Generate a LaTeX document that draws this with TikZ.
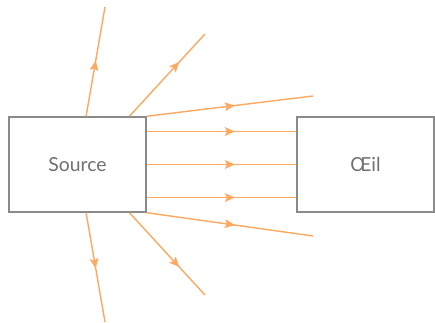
\documentclass[tikz,border=0pt]{standalone}
\usepackage{fontspec}
\setmainfont{Lato}
\usetikzlibrary{arrows.meta,decorations.markings,calc}
\definecolor{rayc}{HTML}{FFA860}
\definecolor{boxc}{HTML}{8A8A8A}
\definecolor{txtc}{HTML}{707070}
\tikzset{
  rayline/.style={draw=rayc, line width=1.05pt, postaction={decorate},
    decoration={markings, mark=at position #1 with {\arrow{Stealth[length=7.5pt,width=6.5pt,inset=1.5pt]}}}},
  boxnode/.style={draw=boxc, line width=1.1pt, minimum width=102.75pt, minimum height=71.25pt,
    inner sep=0pt, font=\fontsize{14.5}{17}\selectfont, text=txtc}
}
\begin{document}
\begin{tikzpicture}[x=0.75pt,y=-0.75pt]
\useasboundingbox (0,0) rectangle (435,323);
\node[boxnode] (src) at (77.5,164.5) {Source};
\node[boxnode] (eye) at (365.5,164.5) {Œil};
\coordinate (e1) at (105,7);
\coordinate (e2) at (205,34);
\coordinate (e3) at (313,96);
\coordinate (e7) at (313,236);
\coordinate (e8) at (205,295);
\coordinate (e9) at (105,322);
\draw[rayline=0.51] ($(src.north)!0.124!(src.north east)$) -- (e1);
\draw[rayline=0.66] ($(src.north)!0.75!(src.north east)$) -- (e2);
\draw[rayline=0.53] (src.north east) -- (e3);
\draw[rayline=0.59] ($(src.east)+(0,-33)$) -- ($(eye.west)+(0,-33)$);
\draw[rayline=0.59] (src.east) -- (eye.west);
\draw[rayline=0.59] ($(src.east)+(0,33)$) -- ($(eye.west)+(0,33)$);
\draw[rayline=0.53] (src.south east) -- (e7);
\draw[rayline=0.66] ($(src.south)!0.75!(src.south east)$) -- (e8);
\draw[rayline=0.51] ($(src.south)!0.124!(src.south east)$) -- (e9);
\end{tikzpicture}
\end{document}
